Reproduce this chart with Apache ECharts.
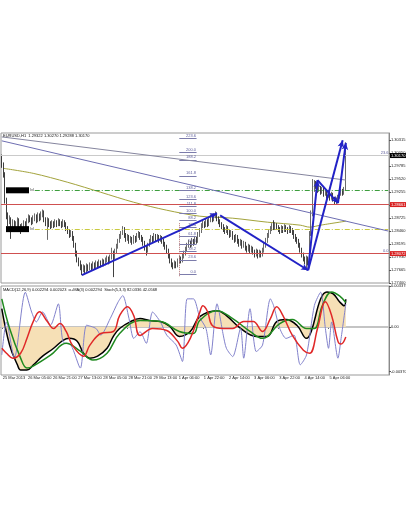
<!DOCTYPE html>
<html><head><meta charset="utf-8">
<script src="https://cdn.jsdelivr.net/npm/echarts@6/dist/echarts.min.js"></script>
<style>html,body{margin:0;padding:0;background:#fff}#c{width:406px;height:516px}</style>
</head><body><div id="c"></div>
<script>
// ---------- DATA ----------
const tickLabels = ['25 Mar 2013','26 Mar 05:00','26 Mar 21:00','27 Mar 13:00','28 Mar 05:00','28 Mar 21:00','29 Mar 13:00','1 Apr 06:00','1 Apr 22:00','2 Apr 14:00','3 Apr 06:00','3 Apr 22:00','4 Apr 14:00','5 Apr 06:00'];
const barsPerLabel = 16;
const slotCount = 247; // H1 bars plus the empty right shift
const priceTicks = [1.27400,1.27665,1.27930,1.28195,1.28460,1.28725,1.28990,1.29255,1.29520,1.29785,1.30050,1.30315];
const macdTicks = [0.003375, 0, -0.0037];
const header = 'EURUSD,H1  1.29322 1.30270 1.29288 1.30170';
const subHeader = 'MACD(12,26,9) 0.002294 0.002023  \u03b1+MA(3) 0.002294  Stoch(5,3,3) 82.0336 42.0568';
// [open, high, low, close]
const ohlc = [
[1.2990,1.3002,1.2975,1.2980],[1.2980,1.2986,1.2955,1.2962],[1.2962,1.2966,1.2902,1.2910],[1.2910,1.2914,1.2870,1.2878],[1.2878,1.2884,1.2856,1.2866],
[1.2866,1.2878,1.2860,1.2870],[1.2870,1.2874,1.2830,1.2858],[1.2858,1.2870,1.2848,1.2864],[1.2864,1.2868,1.2844,1.2852],[1.2852,1.2866,1.2846,1.2860],
[1.2860,1.2874,1.2854,1.2868],[1.2868,1.2872,1.2850,1.2855],[1.2855,1.2860,1.2840,1.2848],[1.2848,1.2862,1.2844,1.2856],[1.2856,1.2868,1.2850,1.2862],
[1.2862,1.2866,1.2852,1.2858],[1.2858,1.2872,1.2854,1.2866],[1.2866,1.2880,1.2862,1.2874],[1.2874,1.2878,1.2864,1.2870],[1.2870,1.2874,1.2858,1.2865],
[1.2865,1.2878,1.2860,1.2872],[1.2872,1.2882,1.2866,1.2876],[1.2876,1.2880,1.2862,1.2868],[1.2868,1.2884,1.2864,1.2878],[1.2878,1.2882,1.2866,1.2872],
[1.2872,1.2886,1.2868,1.2880],[1.2880,1.2890,1.2874,1.2884],[1.2884,1.2888,1.2864,1.2870],[1.2870,1.2874,1.2856,1.2862],[1.2862,1.2874,1.2828,1.2868],
[1.2868,1.2872,1.2854,1.2860],[1.2860,1.2866,1.2850,1.2856],[1.2856,1.2868,1.2852,1.2862],[1.2862,1.2866,1.2852,1.2858],[1.2858,1.2870,1.2854,1.2864],
[1.2864,1.2868,1.2854,1.2860],[1.2860,1.2872,1.2856,1.2866],[1.2866,1.2870,1.2856,1.2862],[1.2862,1.2866,1.2852,1.2858],[1.2858,1.2870,1.2854,1.2864],
[1.2864,1.2868,1.2854,1.2860],[1.2860,1.2864,1.2846,1.2852],[1.2852,1.2856,1.2840,1.2846],[1.2846,1.2850,1.2832,1.2838],[1.2838,1.2848,1.2834,1.2842],
[1.2842,1.2846,1.2826,1.2832],[1.2832,1.2836,1.2812,1.2818],[1.2818,1.2822,1.2794,1.2800],[1.2800,1.2806,1.2782,1.2788],[1.2788,1.2792,1.2774,1.2780],
[1.2780,1.2786,1.2766,1.2774],[1.2774,1.2778,1.2756,1.2768],[1.2768,1.2778,1.2762,1.2772],[1.2772,1.2776,1.2760,1.2766],[1.2766,1.2780,1.2762,1.2774],
[1.2774,1.2778,1.2764,1.2770],[1.2770,1.2782,1.2766,1.2776],[1.2776,1.2780,1.2766,1.2772],[1.2772,1.2784,1.2768,1.2778],[1.2778,1.2782,1.2768,1.2774],
[1.2774,1.2786,1.2770,1.2780],[1.2780,1.2784,1.2770,1.2776],[1.2776,1.2788,1.2772,1.2782],[1.2782,1.2786,1.2772,1.2778],[1.2778,1.2790,1.2774,1.2784],
[1.2784,1.2788,1.2774,1.2780],[1.2780,1.2792,1.2776,1.2786],[1.2786,1.2796,1.2782,1.2790],[1.2790,1.2794,1.2778,1.2784],[1.2784,1.2798,1.2780,1.2792],
[1.2792,1.2812,1.2788,1.2800],[1.2800,1.2806,1.2752,1.2792],[1.2792,1.2810,1.2788,1.2804],[1.2804,1.2820,1.2800,1.2815],[1.2815,1.2830,1.2810,1.2826],
[1.2826,1.2840,1.2822,1.2836],[1.2836,1.2846,1.2830,1.2842],[1.2842,1.2856,1.2838,1.2850],[1.2850,1.2854,1.2832,1.2838],[1.2838,1.2842,1.2824,1.2830],
[1.2830,1.2840,1.2826,1.2834],[1.2834,1.2838,1.2820,1.2826],[1.2826,1.2836,1.2822,1.2830],[1.2830,1.2834,1.2818,1.2824],[1.2824,1.2838,1.2820,1.2832],
[1.2832,1.2836,1.2822,1.2828],[1.2828,1.2842,1.2824,1.2836],[1.2836,1.2846,1.2832,1.2840],[1.2840,1.2844,1.2828,1.2834],[1.2834,1.2838,1.2824,1.2830],
[1.2830,1.2834,1.2816,1.2822],[1.2822,1.2826,1.2806,1.2812],[1.2812,1.2816,1.2796,1.2806],[1.2806,1.2822,1.2802,1.2818],[1.2818,1.2830,1.2814,1.2826],
[1.2826,1.2838,1.2822,1.2832],[1.2832,1.2836,1.2822,1.2828],[1.2828,1.2842,1.2824,1.2836],[1.2836,1.2840,1.2824,1.2830],[1.2830,1.2840,1.2826,1.2834],
[1.2834,1.2838,1.2822,1.2828],[1.2828,1.2838,1.2824,1.2832],[1.2832,1.2836,1.2820,1.2826],[1.2826,1.2830,1.2814,1.2820],[1.2820,1.2824,1.2808,1.2814],
[1.2814,1.2818,1.2800,1.2806],[1.2806,1.2810,1.2790,1.2796],[1.2796,1.2800,1.2780,1.2786],[1.2786,1.2790,1.2772,1.2778],[1.2778,1.2782,1.2768,1.2774],
[1.2774,1.2786,1.2770,1.2780],[1.2780,1.2784,1.2770,1.2776],[1.2776,1.2790,1.2772,1.2784],[1.2784,1.2796,1.2780,1.2790],[1.2790,1.2794,1.2780,1.2786],
[1.2786,1.2800,1.2782,1.2794],[1.2794,1.2806,1.2790,1.2800],[1.2800,1.2814,1.2796,1.2808],[1.2808,1.2822,1.2804,1.2816],[1.2816,1.2828,1.2812,1.2822],
[1.2822,1.2826,1.2812,1.2818],[1.2818,1.2832,1.2814,1.2826],[1.2826,1.2830,1.2816,1.2822],[1.2822,1.2836,1.2818,1.2830],[1.2830,1.2834,1.2820,1.2826],
[1.2826,1.2844,1.2822,1.2838],[1.2838,1.2852,1.2834,1.2846],[1.2846,1.2862,1.2842,1.2856],[1.2856,1.2868,1.2852,1.2862],[1.2862,1.2866,1.2852,1.2858],
[1.2858,1.2872,1.2854,1.2866],[1.2866,1.2870,1.2854,1.2860],[1.2860,1.2874,1.2856,1.2868],[1.2868,1.2880,1.2864,1.2874],[1.2874,1.2878,1.2864,1.2870],
[1.2870,1.2882,1.2866,1.2876],[1.2876,1.2886,1.2872,1.2880],[1.2880,1.2884,1.2866,1.2872],[1.2872,1.2876,1.2860,1.2866],[1.2866,1.2870,1.2854,1.2860],
[1.2860,1.2864,1.2850,1.2856],[1.2856,1.2860,1.2844,1.2850],[1.2850,1.2854,1.2840,1.2846],[1.2846,1.2858,1.2842,1.2852],[1.2852,1.2856,1.2838,1.2844],
[1.2844,1.2848,1.2832,1.2838],[1.2838,1.2848,1.2834,1.2842],[1.2842,1.2846,1.2828,1.2834],[1.2834,1.2838,1.2822,1.2828],[1.2828,1.2840,1.2824,1.2834],
[1.2834,1.2838,1.2820,1.2826],[1.2826,1.2830,1.2814,1.2820],[1.2820,1.2830,1.2816,1.2824],[1.2824,1.2828,1.2810,1.2816],[1.2816,1.2826,1.2812,1.2820],
[1.2820,1.2824,1.2806,1.2812],[1.2812,1.2816,1.2802,1.2808],[1.2808,1.2820,1.2804,1.2814],[1.2814,1.2818,1.2800,1.2806],[1.2806,1.2816,1.2802,1.2810],
[1.2810,1.2814,1.2798,1.2804],[1.2804,1.2808,1.2792,1.2798],[1.2798,1.2810,1.2794,1.2804],[1.2804,1.2808,1.2790,1.2796],[1.2796,1.2808,1.2792,1.2802],
[1.2802,1.2806,1.2792,1.2798],[1.2798,1.2812,1.2794,1.2806],[1.2806,1.2822,1.2802,1.2816],[1.2816,1.2832,1.2812,1.2826],[1.2826,1.2842,1.2822,1.2836],
[1.2836,1.2850,1.2832,1.2844],[1.2844,1.2856,1.2840,1.2850],[1.2850,1.2862,1.2846,1.2856],[1.2856,1.2868,1.2848,1.2852],[1.2852,1.2864,1.2848,1.2858],
[1.2858,1.2862,1.2848,1.2854],[1.2854,1.2858,1.2844,1.2850],[1.2850,1.2854,1.2840,1.2846],[1.2846,1.2858,1.2842,1.2852],[1.2852,1.2856,1.2842,1.2848],
[1.2848,1.2860,1.2844,1.2854],[1.2854,1.2858,1.2844,1.2850],[1.2850,1.2854,1.2840,1.2846],[1.2846,1.2858,1.2842,1.2852],[1.2852,1.2856,1.2842,1.2848],
[1.2848,1.2852,1.2838,1.2844],[1.2844,1.2848,1.2830,1.2836],[1.2836,1.2840,1.2824,1.2830],[1.2830,1.2834,1.2820,1.2826],[1.2826,1.2830,1.2812,1.2818],
[1.2818,1.2822,1.2802,1.2808],[1.2808,1.2812,1.2792,1.2798],[1.2798,1.2802,1.2784,1.2790],[1.2790,1.2794,1.2778,1.2784],[1.2784,1.2796,1.2766,1.2790],
[1.2790,1.2794,1.2776,1.2784],[1.2784,1.2846,1.2780,1.2840],[1.2840,1.2888,1.2836,1.2880],[1.2880,1.2952,1.2876,1.2940],[1.2940,1.2950,1.2926,1.2945],
[1.2945,1.2948,1.2932,1.2938],[1.2938,1.2950,1.2924,1.2930],[1.2930,1.2940,1.2926,1.2934],[1.2934,1.2938,1.2920,1.2926],[1.2926,1.2936,1.2922,1.2930],
[1.2930,1.2934,1.2916,1.2922],[1.2922,1.2932,1.2918,1.2926],[1.2926,1.2930,1.2912,1.2918],[1.2918,1.2928,1.2914,1.2922],[1.2922,1.2926,1.2908,1.2914],
[1.2914,1.2926,1.2910,1.2920],[1.2920,1.2924,1.2906,1.2912],[1.2912,1.2916,1.2900,1.2906],[1.2906,1.2914,1.2900,1.2910],[1.2910,1.2920,1.2904,1.2916],
[1.2916,1.2926,1.2912,1.2922],[1.2922,1.2932,1.2918,1.2928],[1.2928,1.2932,1.2918,1.2924],[1.2924,1.2936,1.2920,1.2930],[1.29322,1.30270,1.29288,1.30170]
];
// moving average read at sample bars [bar, price]
const maPoints = [[1,1.29739],[20,1.29637],[42,1.29454],[63,1.29251],[84,1.29047],[105,1.28885],[126,1.28763],[147,1.28722],[169,1.28641],[190,1.28580],[196,1.28539],[203,1.28580],[219,1.28661]];
// sub window [bar, value]
const macdPoints = [[0,0.001513],[5,-0.001529],[10,-0.003173],[12,-0.003584],[16,-0.003584],[20,-0.003173],[26,-0.002433],[33,-0.001776],[39,-0.001118],[43,-0.000954],[48,-0.0012],[52,-0.002187],[56,-0.002598],[61,-0.002433],[67,-0.001776],[71,-0.000789],[75,-0.000132],[82,0.000444],[88,0.00069],[94,0.000526],[101,0.000444],[107,0.000033],[113,-0.000789],[120,-0.000378],[126,0.000855],[137,0.001348],[143,0.000937],[152,-0.000132],[162,-0.000789],[169,-0.000789],[175,0.000444],[181,0.000608],[188,0.000115],[194,-0.000954],[197,-0.000378],[203,0.002334],[207,0.00291],[211,0.002745],[215,0.002088],[218,0.001759],[219,0.002294]];
const signalPoints = [[0,0.002334],[5,-0.000132],[12,-0.002598],[16,-0.00342],[20,-0.003255],[31,-0.002351],[41,-0.001365],[50,-0.002022],[58,-0.002762],[67,-0.002187],[75,-0.000543],[88,0.000526],[101,0.000444],[113,-0.000378],[122,-0.000543],[126,0.000526],[137,0.001348],[147,0.00069],[158,-0.000378],[166,-0.000954],[177,0.00028],[185,0.000608],[194,-0.000132],[199,-0.000132],[204,0.001759],[210,0.00291],[215,0.002581],[219,0.002023]];
const stochSignalPoints = [[0,28.4],[3,22.4],[7,16.4],[12,22.4],[16,40.4],[20,60.8],[24,72.8],[29,60.8],[33,52.4],[37,58.4],[41,48.8],[45,32],[52,18.8],[56,32],[63,46.4],[71,48.8],[75,68],[80,78.8],[84,68],[88,44],[96,52.4],[105,50],[112,36.8],[115,28.4],[120,40.4],[126,72],[128,80],[131,72.8],[134,56],[141,52.4],[147,52.4],[154,60.8],[160,60.8],[166,48.8],[171,64.4],[175,78.8],[179,68],[185,44],[192,26],[196,22.4],[201,52.4],[206,84.8],[210,68],[214,36.8],[216,33.5],[219,42.0568]];
const stochMainPoints = [[0,20.4],[3,60.4],[8,16.4],[15,96.4],[19,72.4],[22,60.4],[26,72.4],[31,56.4],[36,82.4],[39,36.4],[44,32.4],[50,4.4],[54,56.4],[60,52.4],[63,44.4],[69,64.4],[74,84.4],[77,92.4],[81,64.4],[84,40.4],[88,48.4],[92,34.4],[96,72.4],[101,60.4],[105,44.4],[111,32.4],[115,12.4],[118,88.4],[122,88.4],[126,66],[130,52.4],[133,20.4],[137,82.4],[141,44.4],[143,28.4],[147,18.4],[152,52.4],[154,16.4],[158,76.4],[162,24.4],[166,32.4],[171,88.4],[173,80.4],[177,52.4],[181,40.4],[186,44.4],[190,8.4],[194,20.4],[199,80.4],[203,96.4],[206,52.4],[208,28.4],[210,60.4],[214,16.4],[216,40.4],[219,82.0336]];
// drawn objects [bar1, price1, bar2, price2]
const arrows = [[51,1.2756,137,1.2882],[139,1.2878,195,1.2766],[195,1.2766,201,1.2950],[201,1.2950,214,1.2903],[195,1.2766,217,1.3031],[214,1.2903,219,1.3026]];
const trendLines = [[0,1.3038,219,1.2950],[0,1.3030,246,1.2846]];
const fibLow = 1.2758, fibHigh = 1.2882;
const fibLevels = [0,23.6,38.2,50,61.8,76.4,88.2,100,111.8,123.6,138.2,161.8,188.2,200,223.6];
const fibBars = [113,124];
const fibGuide = [113,1.2862,113,1.2752];
const fib2Levels = [[23.6,1.29718],[0.0,1.27600]];
const redLevels = [1.28661,1.28072];
const dashLevels = [[1.29291,'#3e9e3e'],[1.28499,'#c9c940']];
const dashStartBar = 21;
const lastPrice = 1.30170;

// ---------- CHART ----------
const categories = Array.from({length: slotCount}, (_, i) => String(i));
const F = 'Liberation Sans, Arial, sans-serif';
const blueGray = '#5d5d9c';
const ml = [];
const lineOf = (color, type, width) => ({color: color, type: type || 'solid', width: width || 1});
fib2Levels.forEach(([lvl, p]) => ml.push({yAxis: p, lineStyle: lineOf('#7c7cab'),
  label: {show: true, position: 'insideEndTop', distance: 0.5, formatter: lvl.toFixed(1), fontSize: 4, color: blueGray, fontFamily: F}}));
ml.push({yAxis: lastPrice, lineStyle: lineOf('#cacaca'),
  label: {show: true, position: 'end', distance: 1, formatter: lastPrice.toFixed(5), backgroundColor: '#000', color: '#fff', fontSize: 4, padding: [1, 1, 0, 1], fontFamily: F}});
redLevels.forEach(p => ml.push({yAxis: p, lineStyle: lineOf('#cf5050'),
  label: {show: true, position: 'end', distance: 1, formatter: p.toFixed(5), backgroundColor: '#d82020', color: '#fff', fontSize: 4, padding: [1, 1, 0, 1], fontFamily: F}}));
dashLevels.forEach(([p, c]) => ml.push([{coord: [dashStartBar, p], lineStyle: lineOf(c, [5, 2, 1, 2]),
  label: {show: true, position: 'start', distance: 1, formatter: '{b| }{t|lvl}', fontFamily: F,
    rich: {b: {backgroundColor: '#000', width: 23, height: 6}, t: {fontSize: 4, color: '#444', padding: [0, 0, 0, 1]}}}},
  {coord: [slotCount - 1, p]}]));
fibLevels.forEach(l => { const p = fibLow + l / 100 * (fibHigh - fibLow);
  ml.push([{coord: [fibBars[0], p], lineStyle: lineOf('#7c7cab'),
    label: {show: true, position: 'insideEndTop', distance: 0.5, formatter: l.toFixed(1), fontSize: 4, color: blueGray, fontFamily: F}},
    {coord: [fibBars[1], p]}]); });
ml.push([{coord: [fibGuide[0], fibGuide[1]], lineStyle: lineOf('#b87878', 'dotted')}, {coord: [fibGuide[2], fibGuide[3]]}]);
trendLines.forEach(([a, b, c, d], i) => ml.push([{coord: [a, b], lineStyle: lineOf(i ? '#6e6eb2' : '#85859e')}, {coord: [c, d]}]));
arrows.forEach(([a, b, c, d]) => ml.push([{coord: [a, b], lineStyle: lineOf('#2222c6', 'solid', 2)},
  {coord: [c, d], symbol: 'arrow', symbolSize: [5, 7]}]));

const isTick = (i) => i % barsPerLabel === 0 && i / barsPerLabel < tickLabels.length;

const option = {
  animation: false,
  backgroundColor: '#fff',
  title: [
    {text: header, left: 3, top: 134, padding: 0, textStyle: {fontSize: 4, fontWeight: 'normal', color: '#111', fontFamily: F}},
    {text: subHeader, left: 3, top: 288, padding: 0, textStyle: {fontSize: 4, fontWeight: 'normal', color: '#111', fontFamily: F}}
  ],
  grid: [
    {left: 1, top: 133, width: 388, height: 150, show: true, borderColor: '#9a9a9a', borderWidth: 1, backgroundColor: '#fff', outerBoundsMode: 'none', containLabel: false},
    {left: 1, top: 286, width: 388, height: 89, show: true, borderColor: '#9a9a9a', borderWidth: 1, backgroundColor: '#fff', outerBoundsMode: 'none', containLabel: false}
  ],
  xAxis: [
    {type: 'category', gridIndex: 0, data: categories, boundaryGap: true,
      axisLine: {show: false}, axisTick: {show: false}, axisLabel: {show: false}, splitLine: {show: false}},
    {type: 'category', gridIndex: 1, data: categories, boundaryGap: true,
      axisLine: {show: true, lineStyle: {color: '#8a8a8a'}},
      axisTick: {show: true, alignWithLabel: true, interval: (i) => isTick(i), length: 2, lineStyle: {color: '#555'}},
      axisLabel: {show: true, interval: (i) => isTick(i), formatter: (v, i) => tickLabels[i / barsPerLabel] || '',
        align: 'left', margin: 1, fontSize: 4, color: '#222', fontFamily: F, padding: [0, 0, 0, 1]},
      splitLine: {show: false}}
  ],
  yAxis: [
    {type: 'value', gridIndex: 0, position: 'right', min: 1.2740, max: 1.3046, scale: true,
      axisLine: {show: true, lineStyle: {color: '#8a8a8a'}},
      axisTick: {show: true, length: 2, customValues: priceTicks, lineStyle: {color: '#555'}},
      axisLabel: {show: true, customValues: priceTicks, formatter: (v) => v.toFixed(5), margin: 2, fontSize: 4, color: '#222', fontFamily: F},
      splitLine: {show: false}},
    {type: 'value', gridIndex: 1, position: 'right', min: -0.0040, max: 0.0034,
      axisLine: {show: true, lineStyle: {color: '#8a8a8a'}},
      axisTick: {show: true, length: 2, customValues: macdTicks, lineStyle: {color: '#555'}},
      axisLabel: {show: true, customValues: macdTicks, formatter: (v) => Math.abs(v) < 1e-12 ? '0.00' : v.toFixed(6), margin: 2, fontSize: 4, color: '#222', fontFamily: F},
      splitLine: {show: false}},
    {type: 'value', gridIndex: 1, min: -4, max: 104, show: false, splitLine: {show: false}}
  ],
  series: [
    {type: 'line', name: 'MA', xAxisIndex: 0, yAxisIndex: 0, data: maPoints, smooth: 0.3, symbol: 'none',
      lineStyle: {color: '#a3a33c', width: 1}, z: 2, silent: true},
    {type: 'candlestick', name: 'EURUSD', xAxisIndex: 0, yAxisIndex: 0, barWidth: 1.2,
      data: ohlc.map(([o, h, l, c]) => [o, c, l, h]),
      itemStyle: {color: '#f4f4f4', borderColor: '#5a5a5a', color0: '#1a1a1a', borderColor0: '#2a2a2a', borderWidth: 0.9},
      z: 3, silent: true,
      markLine: {silent: true, animation: false, symbol: ['none', 'none'], label: {show: false}, data: ml, z: 5}},
    {type: 'line', name: 'MACD', xAxisIndex: 1, yAxisIndex: 1, data: macdPoints, smooth: 0.4, symbol: 'none',
      lineStyle: {color: '#000', width: 1.5}, areaStyle: {color: '#f6e0b6', opacity: 1}, z: 2, silent: true,
      markLine: {silent: true, symbol: ['none', 'none'], label: {show: false}, data: [{yAxis: 0, lineStyle: {color: '#c4c4c4', width: 2, type: 'solid'}}], z: 1}},
    {type: 'line', name: 'Signal', xAxisIndex: 1, yAxisIndex: 1, data: signalPoints, smooth: 0.4, symbol: 'none',
      lineStyle: {color: '#1f8a1f', width: 1.5}, z: 4, silent: true},
    {type: 'line', name: 'StochMain', xAxisIndex: 1, yAxisIndex: 2, data: stochMainPoints, smooth: 0.25, symbol: 'none',
      lineStyle: {color: '#8282cc', width: 1}, z: 3, silent: true},
    {type: 'line', name: 'StochSignal', xAxisIndex: 1, yAxisIndex: 2, data: stochSignalPoints, smooth: 0.4, symbol: 'none',
      lineStyle: {color: '#e02828', width: 1.5}, z: 4, silent: true}
  ]
};
const chart = echarts.init(document.getElementById('c'), null, {renderer: 'canvas'});
chart.setOption(option);
</script>
</body></html>
